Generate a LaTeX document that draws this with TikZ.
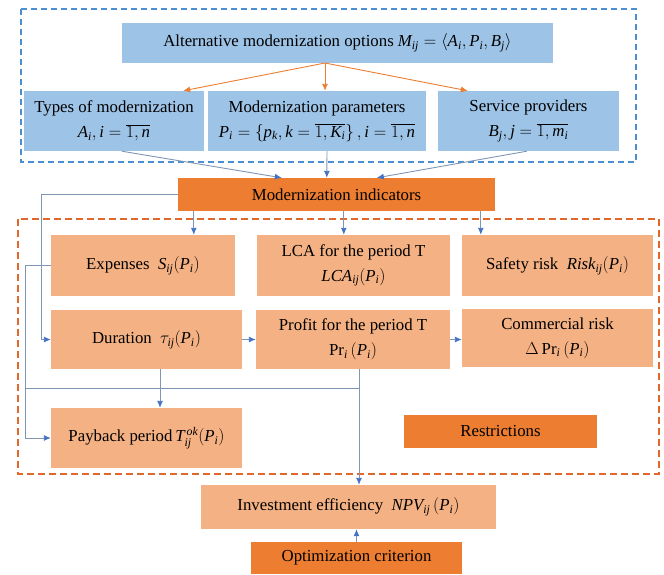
\documentclass[tikz,border=0pt]{standalone}
\usepackage{fontspec}
\setmainfont{Liberation Serif}
\usepackage{tikz}
\usetikzlibrary{arrows.meta,calc}
\definecolor{optblue}{HTML}{9DC3E6}
\definecolor{dashblue}{HTML}{4A8FD0}
\definecolor{indorange}{HTML}{ED7D31}
\definecolor{boxorange}{HTML}{F4B183}
\definecolor{dashorange}{HTML}{E2672B}
\definecolor{linegray}{HTML}{8096B5}
\definecolor{tipblue}{HTML}{4472C4}
\newcommand{\fsz}{\fontsize{16.8}{25}\selectfont}
\tikzset{
  optbox/.style={fill=optblue, inner sep=2pt, align=center, font=\fsz},
  indbox/.style={fill=boxorange, inner sep=2pt, align=center, font=\fsz},
  keybox/.style={fill=indorange, inner sep=2pt, align=center, font=\fsz},
  bluedash/.style={draw=dashblue, line width=1.3pt, dash pattern=on 6pt off 4pt},
  orangedash/.style={draw=dashorange, line width=1.3pt, dash pattern=on 7pt off 4pt},
  link/.style={draw=linegray, line width=0.9pt},
  linkarr/.style={link, -{Latex[length=7pt,width=6pt,color=tipblue]}},
  forkarr/.style={draw=indorange, line width=0.9pt, -{Latex[length=7pt,width=6pt]}}
}

\begin{document}
\begin{tikzpicture}[x=1pt,y=-1pt]
  \useasboundingbox (0,0) rectangle (664,574);
  \draw[bluedash] (21,9) rectangle (636,162);
  \draw[orangedash] (18,219) rectangle (659,474);

  % alternatives
  \node[optbox,minimum width=431pt,minimum height=40pt] (options) at (337.5,43)
    {Alternative modernization options $\mathit{M_{ij}}=\left\langle \mathit{A_i,P_i,B_j}\right\rangle$};
  \node[optbox,minimum width=180pt,minimum height=60pt] (types) at (114,121)
    {Types of modernization\\ $\mathit{A_i, i}=\overline{1,\mathit{n}}$};
  \node[optbox,minimum width=218pt,minimum height=60pt] (params) at (317,121)
    {Modernization parameters\\ $\mathit{P_i}=\left\{\mathit{p_k, k}=\overline{1,\mathit{K_i}}\right\}, \mathit{i}=\overline{1,\mathit{n}}$};
  \node[optbox,minimum width=181pt,minimum height=60pt] (service) at (528.5,121)
    {Service providers\\ $\mathit{B_j, j}=\overline{1,\mathit{m_i}}$};

  % indicators
  \node[keybox,minimum width=317pt,minimum height=33pt] (indic) at (336.5,194.5)
    {Modernization indicators};
  \node[indbox,minimum width=184pt,minimum height=61pt] (expenses) at (143,265.5)
    {Expenses\ \ $\mathit{S_{ij}(P_i)}$};
  \node[indbox,minimum width=193pt,minimum height=61pt] (lca) at (353.5,265.5)
    {LCA for the period T\\ $\mathit{LCA_{ij}(P_i)}$};
  \node[indbox,minimum width=191pt,minimum height=61pt] (safety) at (557.5,265.5)
    {Safety risk\ \ $\mathit{Risk_{ij}(P_i)}$};
  \node[indbox,minimum width=191pt,minimum height=59pt] (duration) at (146.5,339.5)
    {Duration\ \ $\tau_{\mathit{ij}}\mathit{(P_i)}$};
  \node[indbox,minimum width=194pt,minimum height=59pt] (profit) at (353,339.5)
    {Profit for the period T\\ $\mathrm{Pr}_{\mathit{i}}\,\mathit{(P_i)}$};
  \node[indbox,minimum width=191pt,minimum height=58pt] (commercial) at (557.5,338)
    {Commercial risk\\ $\Delta\,\mathrm{Pr}_{\mathit{i}}\,\mathit{(P_i)}$};
  \node[indbox,minimum width=191pt,minimum height=60pt] (payback) at (146.5,438)
    {Payback period\,$\mathit{T_{ij}^{\,ok}(P_i)}$};
  \node[keybox,minimum width=193pt,minimum height=33pt] (restrict) at (500.5,431.5)
    {Restrictions};

  % criterion
  \node[indbox,minimum width=295pt,minimum height=44pt] (invest) at (348.5,507)
    {Investment efficiency\ \ $\mathit{NPV_{ij}\,(P_i)}$};
  \node[keybox,minimum width=211pt,minimum height=32pt] (optim) at (356.5,558)
    {Optimization criterion};

  \coordinate (fork) at (325,63);
  \draw[forkarr] (fork) -- ($(types.north east)+(-21,0)$);
  \draw[forkarr] (fork) -- (fork |- params.north);
  \draw[forkarr] (fork) -- ($(service.north west)+(30,0)$);

  \draw[linkarr] ($(types.south west)+(98,0)$) -- ($(indic.north west)+(104,0)$);
  \draw[linkarr] ($(params.south)+(10,0)$) -- ($(indic.north west)+(149,0)$);
  \draw[linkarr] ($(service.south west)+(89,0)$) -- ($(indic.north west)+(199,0)$);

  \draw[linkarr] ($(indic.south west)+(16,0)$) -- ($(expenses.north west)+(143,0)$);
  \draw[linkarr] ($(indic.south west)+(166,0)$) -- ($(lca.north west)+(87,0)$);
  \draw[linkarr] ($(indic.south west)+(303,0)$) -- ($(safety.north west)+(19,0)$);

  \draw[linkarr] (indic.west) -- ++(-136,0) |- (duration.west);
  \draw[linkarr] (expenses.west) -- ++(-25,0) |- (payback.west);
  \draw[linkarr] (duration.east) -- (profit.west);
  \draw[linkarr] (profit.east) -- (profit.east -| commercial.west);
  \draw[linkarr] ($(duration.south)+(13.5,0)$) -- ($(payback.north)+(13.5,0)$);

  \coordinate (prdrop) at ($(profit.south)+(6,0)$);
  \coordinate (tee) at ($(payback.north west)+(-25,-19)$);
  \draw[link] (tee) -- (tee -| prdrop);
  \draw[linkarr] (prdrop) -- (prdrop |- invest.north);
  \draw[linkarr] (optim.north) -- (optim.north |- invest.south);
\end{tikzpicture}
\end{document}
